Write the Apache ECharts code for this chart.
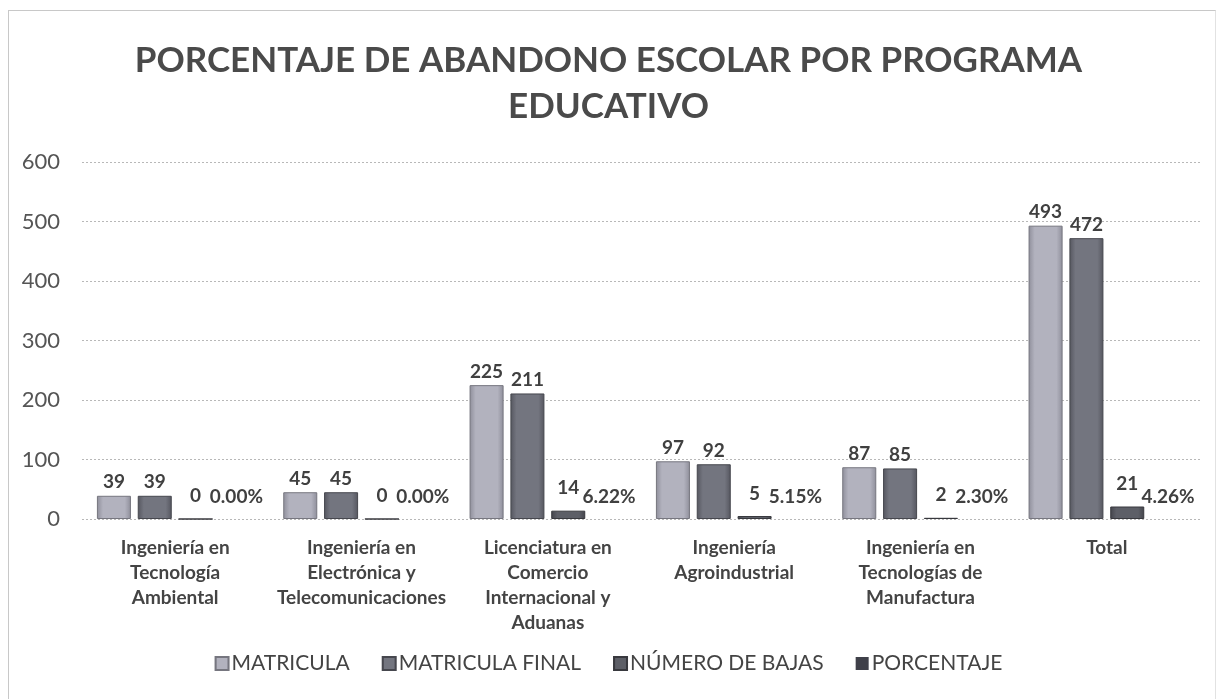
<!DOCTYPE html>
<html>
<head>
<meta charset="utf-8">
<script src="https://cdn.jsdelivr.net/npm/echarts@6/dist/echarts.min.js"></script>
<style>
  html, body { margin: 0; padding: 0; background: #fff; }
  #frame { position: absolute; left: 8px; top: 10px; width: 1206px; height: 700px; border-left: 1px solid #c8c8c8; border-top: 1px solid #c8c8c8; border-right: 1px solid #e2e2e2; }
  #chart { position: absolute; left: 0; top: 0; width: 1217px; height: 699px; }
</style>
</head>
<body>
<div id="frame"></div>
<div id="chart"></div>
<script>
// Programas educativos
const categories = [
  'Ingeniería en\nTecnología\nAmbiental',
  'Ingeniería en\nElectrónica y\nTelecomunicaciones',
  'Licenciatura en\nComercio\nInternacional y\nAduanas',
  'Ingeniería\nAgroindustrial',
  'Ingeniería en\nTecnologías de\nManufactura',
  'Total'
];
const matricula      = [39, 45, 225, 97, 87, 493];
const matriculaFinal = [39, 45, 211, 92, 85, 472];
const numeroBajas    = [0, 0, 14, 5, 2, 21];
const porcentaje     = [0.0000, 0.0000, 0.0622, 0.0515, 0.0230, 0.0426];
const yTicks = [0, 100, 200, 300, 400, 500, 600];

const FONT = 'Lato, "Open Sans", sans-serif';
const labelStyle = (distance, fmt) => ({
  show: true, position: 'top', distance: distance,
  fontFamily: FONT, fontSize: 19, fontWeight: 'bold', color: '#404040',
  formatter: fmt
});
// bar fill: darker along both edges, flat in the middle
const shaded = (edge, mid) => new echarts.graphic.LinearGradient(0, 0, 1, 0, [
  { offset: 0, color: edge }, { offset: 0.18, color: mid },
  { offset: 0.82, color: mid }, { offset: 1, color: edge }
]);

const chart = echarts.init(document.getElementById('chart'), null, { renderer: 'canvas' });
chart.setOption({
  animation: false,
  backgroundColor: 'transparent',
  title: {
    text: 'PORCENTAJE DE ABANDONO ESCOLAR POR PROGRAMA\nEDUCATIVO',
    left: 'center', top: 33,
    textStyle: { fontFamily: FONT, fontSize: 35, fontWeight: 'bold', color: '#4a4a4a', lineHeight: 46 }
  },
  legend: {
    bottom: 20, left: 'center',
    itemWidth: 13, itemHeight: 13, itemGap: 32,
    icon: 'rect',
    textStyle: { fontFamily: FONT, fontSize: 21, color: '#444', padding: [0, 0, 0, -2] },
    data: ['MATRICULA', 'MATRICULA FINAL', 'NÚMERO DE BAJAS', 'PORCENTAJE']
  },
  grid: { left: 82, right: 17, top: 162, bottom: 180, containLabel: false },
  xAxis: {
    type: 'category', data: categories,
    axisLine: { show: false }, axisTick: { show: false },
    axisLabel: { interval: 0, margin: 16, fontFamily: FONT, fontSize: 19, fontWeight: 'bold', color: '#444', lineHeight: 25 }
  },
  yAxis: {
    type: 'value', min: yTicks[0], max: yTicks[yTicks.length - 1], interval: 100,
    axisLine: { show: false }, axisTick: { show: false },
    axisLabel: { margin: 22, fontFamily: FONT, fontSize: 22, color: '#555' },
    splitLine: { lineStyle: { color: '#b8b8b8', type: [2, 2], width: 1 } }
  },
  series: [
    {
      name: 'MATRICULA', type: 'bar', data: matricula,
      barGap: '20%', barCategoryGap: '16%',
      itemStyle: { color: shaded('#8e8e9a', '#b2b2be'), borderColor: '#76767f', borderWidth: 1 },
      label: labelStyle(4)
    },
    {
      name: 'MATRICULA FINAL', type: 'bar', data: matriculaFinal,
      itemStyle: { color: shaded('#55565f', '#73757f'), borderColor: '#46474e', borderWidth: 1 },
      label: labelStyle(4)
    },
    {
      name: 'NÚMERO DE BAJAS', type: 'bar', data: numeroBajas,
      itemStyle: { color: shaded('#44454c', '#5d5f67'), borderColor: '#38393e', borderWidth: 1 },
      label: labelStyle(13)
    },
    {
      name: 'PORCENTAJE', type: 'bar', data: porcentaje,
      itemStyle: { color: '#3f4049', borderWidth: 0 },
      label: labelStyle(13, p => (p.value * 100).toFixed(2) + '%')
    }
  ]
});
</script>
</body>
</html>
